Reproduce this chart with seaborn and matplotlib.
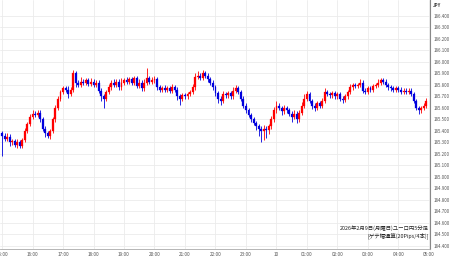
import numpy as np
import pandas as pd
import matplotlib
matplotlib.use("Agg")
import matplotlib.pyplot as plt
import seaborn as sns

# ---- data (EUR/JPY 5-minute candles, 15:00 -> 05:00) ----
first_open = 185.38
closes = [
    185.36, 185.33, 185.35, 185.30, 185.31, 185.28, 185.30, 185.27, 185.32, 185.40, 185.46, 185.52,
    185.55, 185.54, 185.56, 185.50, 185.42, 185.38, 185.36, 185.40, 185.50, 185.60, 185.68, 185.74,
    185.77, 185.76, 185.72, 185.76, 185.90, 185.82, 185.80, 185.83, 185.82, 185.84, 185.81, 185.83,
    185.80, 185.82, 185.75, 185.70, 185.68, 185.74, 185.78, 185.82, 185.80, 185.83, 185.78, 185.82,
    185.84, 185.83, 185.85, 185.82, 185.86, 185.79, 185.82, 185.77, 185.82, 185.86, 185.83, 185.84,
    185.85, 185.78, 185.76, 185.77, 185.76, 185.77, 185.75, 185.78, 185.76, 185.70, 185.68, 185.71,
    185.70, 185.72, 185.74, 185.78, 185.87, 185.88, 185.86, 185.90, 185.88, 185.85, 185.82, 185.78,
    185.73, 185.68, 185.66, 185.72, 185.71, 185.73, 185.70, 185.75, 185.77, 185.74, 185.68, 185.62,
    185.58, 185.54, 185.50, 185.47, 185.44, 185.42, 185.40, 185.42, 185.41, 185.44, 185.50, 185.58,
    185.62, 185.60, 185.57, 185.60, 185.58, 185.55, 185.52, 185.55, 185.50, 185.56, 185.62, 185.68,
    185.72, 185.66, 185.62, 185.60, 185.64, 185.62, 185.66, 185.74, 185.72, 185.71, 185.73, 185.70,
    185.72, 185.68, 185.67, 185.70, 185.74, 185.78, 185.80, 185.79, 185.80, 185.82, 185.75, 185.74,
    185.77, 185.76, 185.79, 185.80, 185.82, 185.84, 185.83, 185.80, 185.78, 185.77, 185.76, 185.77,
    185.76, 185.74, 185.75, 185.74, 185.75, 185.72, 185.66, 185.60, 185.58, 185.60, 185.62, 185.66,
]
wick_up = [  # in pips (0.01 JPY)
    2, 2, 3, 2, 2, 2, 3, 2, 2, 3, 2, 3,
    3, 2, 2, 2, 2, 2, 2, 2, 2, 3, 2, 2,
    2, 2, 3, 2, 3, 2, 2, 4, 2, 2, 2, 3,
    2, 2, 2, 2, 2, 2, 3, 2, 3, 2, 2, 4,
    2, 3, 2, 2, 2, 2, 3, 2, 3, 9, 2, 3,
    3, 2, 2, 2, 3, 2, 2, 3, 2, 2, 2, 2,
    2, 2, 2, 3, 3, 4, 2, 3, 2, 2, 2, 2,
    2, 2, 2, 3, 2, 2, 2, 3, 3, 2, 2, 2,
    2, 2, 2, 2, 2, 2, 2, 3, 2, 2, 3, 3,
    4, 2, 2, 3, 2, 2, 2, 3, 2, 2, 3, 4,
    3, 2, 2, 2, 2, 2, 3, 3, 2, 2, 2, 2,
    2, 2, 2, 2, 2, 3, 2, 2, 2, 3, 2, 2,
    2, 2, 2, 2, 3, 2, 2, 2, 2, 2, 2, 2,
    2, 2, 2, 2, 2, 2, 2, 2, 2, 2, 2, 3,
]
wick_down = [
    18, 2, 2, 3, 2, 2, 3, 2, 2, 2, 2, 2,
    2, 2, 2, 2, 2, 3, 2, 3, 2, 2, 2, 2,
    2, 2, 3, 2, 2, 4, 2, 2, 2, 2, 2, 2,
    2, 2, 2, 4, 8, 2, 2, 2, 2, 2, 2, 2,
    2, 2, 2, 2, 2, 2, 2, 2, 2, 2, 2, 2,
    2, 2, 2, 2, 2, 2, 2, 2, 2, 3, 5, 2,
    2, 2, 2, 2, 2, 2, 2, 2, 2, 2, 2, 2,
    3, 4, 3, 2, 2, 2, 2, 2, 2, 2, 2, 2,
    2, 2, 2, 2, 3, 6, 10, 8, 7, 4, 2, 2,
    2, 2, 3, 2, 2, 2, 4, 2, 3, 2, 2, 2,
    2, 2, 3, 3, 2, 2, 2, 2, 2, 2, 2, 2,
    2, 2, 3, 2, 2, 2, 2, 2, 2, 2, 2, 2,
    2, 2, 2, 2, 2, 2, 2, 2, 2, 2, 2, 2,
    2, 2, 2, 2, 2, 2, 2, 2, 3, 2, 2, 2,
]
hour_labels = ["15:00", "16:00", "17:00", "18:00", "19:00", "20:00", "21:00", "22:00",
               "23:00", "10", "01:00", "02:00", "03:00", "04:00", "05:00"]
price_ticks = [186.4, 186.3, 186.2, 186.1, 186.0, 185.9, 185.8, 185.7, 185.6, 185.5, 185.4,
               185.3, 185.2, 185.1, 185.0, 184.9, 184.8, 184.7, 184.6, 184.5, 184.4]
note_lines = ["2026年2月9日(月曜日)ユーロ円5分足", "[ゲテ幅通算(20Pips/4本)]"]
unit_label = "JPY"

# ---- build table ----
df = pd.DataFrame({"close": closes})
df["open"] = [first_open] + closes[:-1]
df["high"] = df[["open", "close"]].max(axis=1) + np.array(wick_up) / 100.0
df["low"] = df[["open", "close"]].min(axis=1) - np.array(wick_down) / 100.0
df["idx"] = np.arange(len(df))
df["up"] = df["close"] >= df["open"]

sns.set_theme(style="white")
plt.rcParams["font.family"] = ["Noto Sans CJK JP", "DejaVu Sans"]

fig = plt.figure(figsize=(4.5, 2.58), dpi=100)
ax = fig.add_axes([0.0, 0.035, 0.956, 0.965])

red = "#ff0000"
blue = "#0000dd"
colors = [red if u else blue for u in df["up"]]

# wicks
ax.vlines(df["idx"], df["low"], df["high"], colors=colors, linewidth=0.6, zorder=3)
# bodies
body_bottom = df[["open", "close"]].min(axis=1)
body_h = (df["close"] - df["open"]).abs().clip(lower=0.006)
ax.bar(df["idx"], body_h, bottom=body_bottom, width=0.75, color=colors,
       edgecolor=colors, linewidth=0.2, zorder=4)

ax.set_xlim(-0.8, 168.5)
ax.set_ylim(184.374, 186.539)

ax.set_xticks(np.arange(0, 12 * len(hour_labels), 12))
ax.set_xticklabels(hour_labels)
ax.set_yticks(price_ticks)
ax.set_yticklabels([f"{p:.3f}" for p in price_ticks])
ax.yaxis.tick_right()
ax.tick_params(axis="x", labelsize=3.4, colors="#555555", length=0, pad=2)
ax.tick_params(axis="y", labelsize=3.2, colors="#555555", length=0, pad=2.5)

ax.grid(True, color="#ebebeb", linewidth=0.6, zorder=0)
ax.set_axisbelow(True)

sns.despine(ax=ax, left=True, top=True, right=False, bottom=False)
ax.spines["right"].set_color("#888888")
ax.spines["right"].set_linewidth(0.8)
ax.spines["bottom"].set_color("#aaaaaa")
ax.spines["bottom"].set_linewidth(0.6)

fig.text(0.972, 0.978, unit_label, fontsize=3.3, color="#444444", ha="center", va="center",
         weight="bold")

ax.text(0.997, 0.072, note_lines[0], transform=ax.transAxes, fontsize=3.9,
        ha="right", va="bottom", color="#222222")
ax.text(0.997, 0.042, note_lines[1], transform=ax.transAxes, fontsize=3.9,
        ha="right", va="bottom", color="#222222")

fig.savefig("out.png", dpi=100)
